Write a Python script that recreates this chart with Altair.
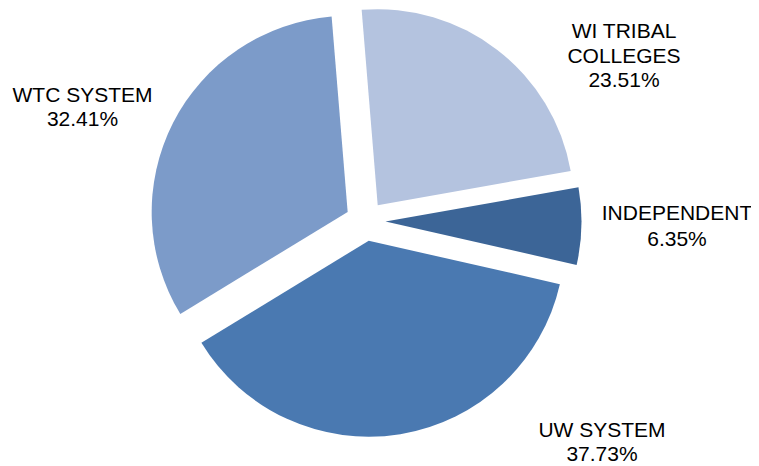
import math
import textwrap
import altair as alt
import pandas as pd

# ---- data ----
CATEGORIES = ["WI TRIBAL COLLEGES", "INDEPENDENT", "UW SYSTEM", "WTC SYSTEM"]
SHARES = [23.51, 6.35, 37.73, 32.41]
COLORS = ["#B4C3DF", "#3C6597", "#4A79B1", "#7C9BC9"]

# ---- layout ----
W, H = 743, 458
CX, CY = 357.5, 213.0      # pie centre (chart pixels)
R = 196                    # pie radius
EXPLODE = 20               # explode distance
START = -4.7 * math.pi / 180
FONT = "Liberation Sans"
FS = 21
LABEL_POS = {
    "WTC SYSTEM": (74.5, 93.7, 24),
    "WI TRIBAL COLLEGES": (616, 30.3, 24.5),
    "INDEPENDENT": (669, 212, 25.5),
    "UW SYSTEM": (594, 428.7, 24.5),
}

df = pd.DataFrame({"category": CATEGORIES, "share": SHARES, "order": list(range(len(CATEGORIES)))})

pie = (
    alt.Chart(df)
    .transform_joinaggregate(total="sum(share)")
    .transform_window(cum="sum(share)", sort=[alt.SortField("order")], frame=[None, 0])
    .transform_calculate(
        t1=f"{START} + 2*PI*datum.cum/datum.total",
    )
    .transform_calculate(
        t0=f"datum.t1 - 2*PI*datum.share/datum.total",
    )
    .transform_calculate(mid="(datum.t0 + datum.t1)/2")
    .transform_calculate(
        cx=f"{CX} + {EXPLODE}*sin(datum.mid)",
        cy=f"{CY} - {EXPLODE}*cos(datum.mid)",
    )
    .mark_arc(radius=R)
    .encode(
        x=alt.X("cx:Q", scale=None, axis=None),
        y=alt.Y("cy:Q", scale=None, axis=None),
        theta=alt.Theta("t0:Q", scale=None),
        theta2=alt.Theta2("t1:Q"),
        color=alt.Color("category:N", scale=alt.Scale(domain=CATEGORIES, range=COLORS), legend=None),
    )
)

layers = [pie]
for name, share in zip(CATEGORIES, SHARES):
    lines = textwrap.wrap(name, width=12) + [f"{share:.2f}%"]
    x, y, lh = LABEL_POS[name]
    layers.append(
        alt.Chart(df).mark_text(
            font=FONT, fontSize=FS, lineHeight=lh, align="center", baseline="alphabetic", color="#000000"
        ).encode(x=alt.value(x), y=alt.value(y), text=alt.value(lines))
        .transform_filter(f"datum.category == '{name}'")
    )

chart = (
    alt.layer(*layers)
    .properties(width=W, height=H, padding=0, autosize="none")
    .configure_view(stroke=None)
)

chart.save("out.html", embed_options={"renderer": "svg", "actions": False})
